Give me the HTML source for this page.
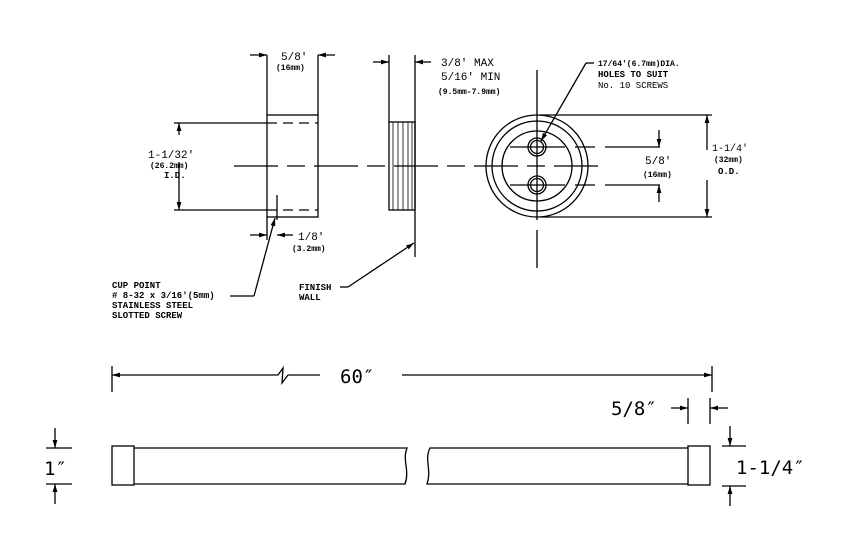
<!DOCTYPE html>
<html><head><style>
body{margin:0;background:#fff}
svg{display:block}
text{font-family:"Liberation Mono",monospace;fill:#000}
.s{font-size:9px;font-weight:bold}
.m{font-size:11px}
.b{font-family:"DejaVu Sans Mono","Liberation Mono",monospace;font-size:19px}
</style></head><body>
<svg width="850" height="558" viewBox="0 0 850 558" xmlns="http://www.w3.org/2000/svg">
<defs>
<marker id="a" viewBox="0 0 10 6" refX="10" refY="3" markerWidth="8" markerHeight="5" orient="auto-start-reverse" markerUnits="userSpaceOnUse"><path d="M0,0 L10,3 L0,6z" fill="#000"/></marker>
</defs>
<g stroke="#000" stroke-width="1.3" fill="none">
<rect x="267" y="115" width="51" height="102"/>
<line x1="267" y1="123" x2="318" y2="123" stroke-dasharray="10,6"/>
<line x1="267" y1="210" x2="318" y2="210" stroke-dasharray="10,6"/>
<line x1="267" y1="55" x2="267" y2="115"/><line x1="318" y1="55" x2="318" y2="115"/>
<line x1="250" y1="55" x2="267" y2="55" marker-end="url(#a)"/>
<line x1="335" y1="55" x2="318" y2="55" marker-end="url(#a)"/>
<line x1="174" y1="123" x2="267" y2="123"/><line x1="174" y1="210" x2="267" y2="210"/>
<line x1="179" y1="135" x2="179" y2="123" marker-end="url(#a)"/>
<line x1="179" y1="162" x2="179" y2="210" marker-end="url(#a)"/>
<line x1="277" y1="195" x2="277" y2="220"/>
<line x1="267" y1="217" x2="267" y2="240"/>
<line x1="250" y1="235" x2="267" y2="235" marker-end="url(#a)"/>
<line x1="293" y1="235" x2="277" y2="235" marker-end="url(#a)"/>
<line x1="254" y1="296" x2="275" y2="218" marker-end="url(#a)"/>
<line x1="230" y1="296" x2="254" y2="296"/>
<line x1="234" y1="166" x2="600" y2="166" stroke-dasharray="44,9,18,9"/>
<rect x="389" y="122" width="26" height="88"/>
<g stroke-width="0.8">
<line x1="393" y1="122" x2="393" y2="210"/><line x1="398" y1="122" x2="398" y2="210"/><line x1="403" y1="122" x2="403" y2="210"/><line x1="408" y1="122" x2="408" y2="210"/><line x1="412" y1="122" x2="412" y2="210"/>
</g>
<line x1="389" y1="55" x2="389" y2="122"/>
<line x1="415" y1="55" x2="415" y2="257"/>
<line x1="373" y1="62" x2="389" y2="62" marker-end="url(#a)"/>
<line x1="431" y1="62" x2="415" y2="62" marker-end="url(#a)"/>
<line x1="348" y1="287" x2="414" y2="243" marker-end="url(#a)"/>
<line x1="340" y1="287" x2="348" y2="287"/>
<circle cx="537" cy="166" r="51"/>
<circle cx="537" cy="166" r="45"/>
<circle cx="537" cy="166" r="35"/>
<circle cx="537" cy="147" r="9"/><circle cx="537" cy="147" r="6.5"/>
<circle cx="537" cy="185" r="9"/><circle cx="537" cy="185" r="6.5"/>
<line x1="510" y1="147" x2="665" y2="147" stroke-dasharray="55,10,20,10"/>
<line x1="510" y1="185" x2="665" y2="185" stroke-dasharray="55,10,20,10"/>
<line x1="537" y1="70" x2="537" y2="268" stroke-dasharray="150,10,40"/>
<line x1="659" y1="130" x2="659" y2="147" marker-end="url(#a)"/>
<line x1="659" y1="202" x2="659" y2="185" marker-end="url(#a)"/>
<line x1="540" y1="115" x2="712" y2="115"/><line x1="540" y1="217" x2="712" y2="217"/>
<line x1="707" y1="150" x2="707" y2="115" marker-end="url(#a)"/>
<line x1="707" y1="180" x2="707" y2="217" marker-end="url(#a)"/>
<line x1="586" y1="63" x2="541" y2="141" marker-end="url(#a)"/>
<line x1="586" y1="63" x2="594" y2="63"/>
<line x1="112" y1="366" x2="112" y2="392"/><line x1="712" y1="366" x2="712" y2="392"/>
<polyline points="112,375 278,375 283,368 282,383 288,375 320,375" marker-start="url(#a)"/>
<line x1="402" y1="375" x2="712" y2="375" marker-end="url(#a)"/>
<line x1="688" y1="398" x2="688" y2="424"/><line x1="710" y1="398" x2="710" y2="424"/>
<line x1="671" y1="408" x2="688" y2="408" marker-end="url(#a)"/>
<line x1="728" y1="408" x2="710" y2="408" marker-end="url(#a)"/>
<rect x="112" y="446" width="22" height="39"/>
<rect x="688" y="446" width="22" height="39"/>
<path d="M134,448 H407 C402,460 410,470 405,484 H134"/>
<path d="M688,448 H430 C424,460 432,470 427,484 H688"/>
<line x1="46" y1="448" x2="72" y2="448"/><line x1="46" y1="484" x2="72" y2="484"/>
<line x1="55" y1="428" x2="55" y2="448" marker-end="url(#a)"/>
<line x1="55" y1="504" x2="55" y2="484" marker-end="url(#a)"/>
<line x1="722" y1="446" x2="746" y2="446"/><line x1="722" y1="486" x2="746" y2="486"/>
<line x1="730" y1="426" x2="730" y2="446" marker-end="url(#a)"/>
<line x1="730" y1="506" x2="730" y2="486" marker-end="url(#a)"/>
</g>
<text x="281" y="60" class="m">5/8'</text>
<text x="276" y="70" class="s" style="font-size:8px">(16mm)</text>
<text x="148" y="158" class="m">1-1/32'</text>
<text x="150" y="168" class="s" style="font-size:8px">(26.2mm)</text>
<text x="164" y="178" class="s">I.D.</text>
<text x="298" y="240" class="m">1/8'</text>
<text x="292" y="251" class="s" style="font-size:8px">(3.2mm)</text>
<text x="112" y="288" class="s">CUP POINT</text>
<text x="112" y="298" class="s"># 8-32 x 3/16'(5mm)</text>
<text x="112" y="308" class="s">STAINLESS STEEL</text>
<text x="112" y="318" class="s">SLOTTED SCREW</text>
<text x="299" y="290" class="s">FINISH</text>
<text x="299" y="300" class="s">WALL</text>
<text x="441" y="66" class="m">3/8' MAX</text>
<text x="441" y="80" class="m">5/16' MIN</text>
<text x="438" y="94" class="s" style="font-size:8px">(9.5mm-7.9mm)</text>
<text x="598" y="66" class="s" style="font-size:8px">17/64'(6.7mm)DIA.</text>
<text x="598" y="77" class="s">HOLES TO SUIT</text>
<text x="598" y="88" class="s" style="font-weight:normal">No. 10 SCREWS</text>
<text x="645" y="164" class="m">5/8'</text>
<text x="643" y="177" class="s" style="font-size:8px">(16mm)</text>
<text x="712" y="151" class="m" style="font-size:10px">1-1/4'</text>
<text x="714" y="162" class="s" style="font-size:8px">(32mm)</text>
<text x="718" y="174" class="s">O.D.</text>
<text x="340" y="383" class="b">60″</text>
<text x="611" y="415" class="b">5/8″</text>
<text x="44" y="475" class="b">1″</text>
<text x="736" y="474" class="b">1-1/4″</text>
</svg>
</body></html>
